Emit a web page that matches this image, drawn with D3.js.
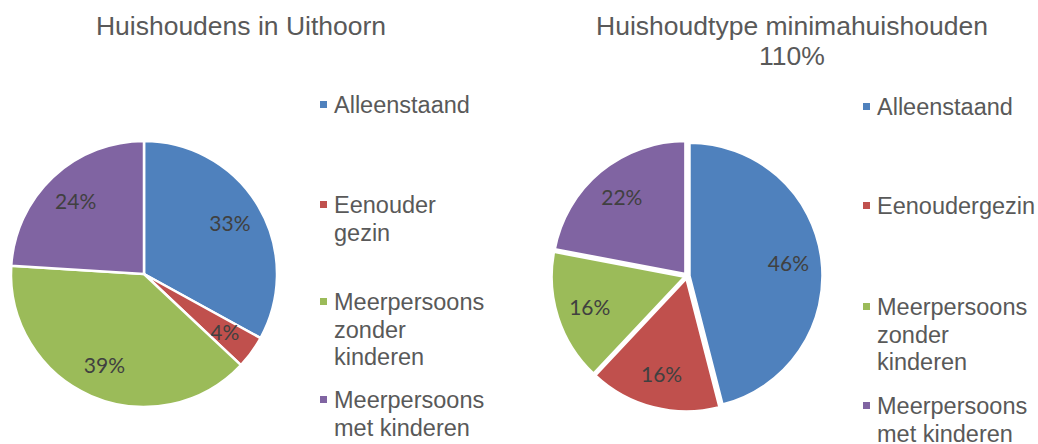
<!DOCTYPE html>
<html>
<head>
<meta charset="utf-8">
<script src="https://cdn.jsdelivr.net/npm/d3@7"></script>
<style>
  body { margin: 0; background: #ffffff; }
</style>
</head>
<body>
<div id="chart"></div>
<script>

// categorieen (zelfde in beide grafieken)
var categories = ["Alleenstaand", "Eenouder gezin", "Meerpersoons zonder kinderen", "Meerpersoons met kinderen"];

// legenda regels per grafiek
var legendLeft = [["Alleenstaand"], ["Eenouder", "gezin"], ["Meerpersoons", "zonder", "kinderen"], ["Meerpersoons", "met kinderen"]];
var legendRight = [["Alleenstaand"], ["Eenoudergezin"], ["Meerpersoons", "zonder", "kinderen"], ["Meerpersoons", "met kinderen"]];

// percentages
var valuesLeft = [33, 4, 39, 24];
var valuesRight = [46, 16, 16, 22];

var colors = ["#4F81BD", "#C0504D", "#9BBB59", "#8064A2"];

var width = 1038;
var height = 444;

var fontSans = "'Liberation Sans', Arial, sans-serif";

var svg = d3.select("#chart")
    .append("svg")
    .attr("width", width)
    .attr("height", height);

// titels
svg.append("text")
    .attr("x", 241)
    .attr("y", 35)
    .attr("text-anchor", "middle")
    .style("font-family", fontSans)
    .style("font-size", "26.5px")
    .style("fill", "#595959")
    .text("Huishoudens in Uithoorn");

var title2 = svg.append("text")
    .attr("text-anchor", "middle")
    .style("font-family", fontSans)
    .style("font-size", "26.5px")
    .style("fill", "#595959");
title2.append("tspan").attr("x", 792).attr("y", 35).text("Huishoudtype minimahuishouden");
title2.append("tspan").attr("x", 792).attr("y", 65).text("110%");

// tekent een taart met labels
function drawPie(cx, cy, radius, values, explode) {
    var pie = d3.pie().sort(null).value(function (d) { return d; });
    var arcs = pie(values);

    var arc = d3.arc().innerRadius(0).outerRadius(radius);
    var labelArc = d3.arc().innerRadius(radius * 0.75).outerRadius(radius * 0.75);

    var g = svg.append("g")
        .attr("transform", "translate(" + cx + "," + cy + ")");

    var slice = g.selectAll(".slice")
        .data(arcs)
        .enter()
        .append("g")
        .attr("class", "slice")
        .attr("transform", function (d) {
            var a = (d.startAngle + d.endAngle) / 2;
            return "translate(" + (explode * Math.sin(a)) + "," + (-explode * Math.cos(a)) + ")";
        });

    slice.append("path")
        .attr("d", arc)
        .attr("fill", function (d, i) { return colors[i]; })
        .attr("stroke", "#ffffff")
        .attr("stroke-width", 2.5)
        .attr("stroke-linejoin", "round");

    slice.append("text")
        .attr("transform", function (d) { return "translate(" + labelArc.centroid(d) + ")"; })
        .attr("text-anchor", "middle")
        .attr("dy", "0.35em")
        .style("font-family", "Lato, sans-serif")
        .style("font-size", "21px")
        .style("fill", "#404040")
        .text(function (d) { return d.data + "%"; });
}

// legenda: blokje + tekstregels
function drawLegend(x, baselines, lines) {
    var lg = svg.append("g");
    lines.forEach(function (entry, i) {
        var y0 = baselines[i];
        lg.append("rect")
            .attr("x", x)
            .attr("y", y0 - 12)
            .attr("width", 7)
            .attr("height", 7)
            .attr("fill", colors[i]);
        entry.forEach(function (line, j) {
            lg.append("text")
                .attr("x", x + 14)
                .attr("y", y0 + j * 27.5)
                .style("font-family", fontSans)
                .style("font-size", "23.5px")
                .style("fill", "#595959")
                .text(line);
        });
    });
}

drawPie(144, 274, 133, valuesLeft, 0);
drawLegend(320, [113, 213, 310, 408], legendLeft);

drawPie(687, 276, 133, valuesRight, 2.5);
drawLegend(863, [115, 214, 315, 414], legendRight);

</script>
</body>
</html>
